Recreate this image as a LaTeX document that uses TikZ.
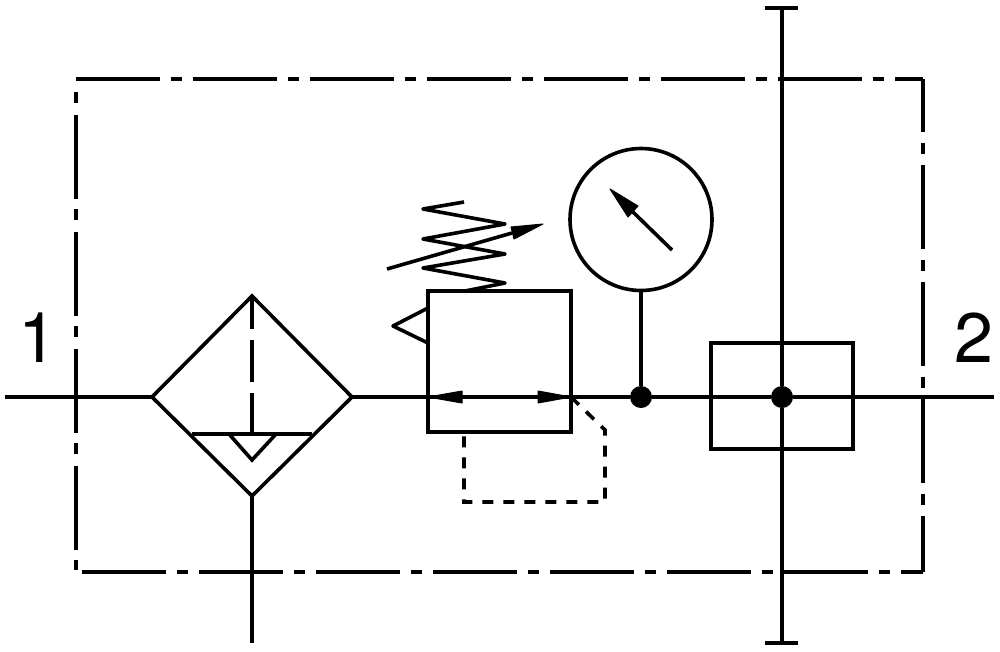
\documentclass[tikz,border=0pt]{standalone}
\usepackage{fontspec}
\setmainfont{TeX Gyre Heros}
\begin{document}
\begin{tikzpicture}[x=1pt,y=-1pt,
  sym/.style={line width=3.6pt,draw=black,line join=miter},
  boxnode/.style={sym,rectangle,inner sep=0pt,outer sep=0pt},
  dashdot/.style={sym,dash pattern=on 84pt off 10.5pt on 11pt off 11.5pt},
  pilot/.style={line width=3.6pt,draw=black,dash pattern=on 11pt off 10pt},
  portlabel/.style={font=\fontsize{70}{70}\selectfont,inner sep=0pt,outer sep=0pt,anchor=base,text=black},
  junction/.style={circle,fill=black,inner sep=0pt,minimum size=22pt},
  head/.style={fill=black,draw=black,line width=1pt,line join=round}]
\path[use as bounding box,fill=white] (0,0) rectangle (1000,651);
% outer frame
\coordinate (tl) at (76,79);
\coordinate (tr) at (923,79);
\coordinate (bl) at (76,572);
\coordinate (br) at (923,572);
\coordinate (ltop) at (76,92);
\coordinate (lbot) at (76,570);
\coordinate (bstart) at (82,572);
\draw[dashdot] (tl) -- (tr);
\draw[dashdot] (bstart) -- (br);
\draw[dashdot,dash phase=94.5pt] (ltop) -- (lbot);
\draw[dashdot,dash phase=31pt] (tr) -- (br);
% ports
\coordinate (p1) at (5,397);
\coordinate (p2) at (994,397);
\node[portlabel] (lab1) at (38,362) {1};
\node[portlabel] (lab2) at (974,362) {2};
% filter
\coordinate (fT) at (252,296);
\coordinate (fL) at (152,397);
\coordinate (fR) at (352,397);
\coordinate (fB) at (252,496);
\coordinate (fHL) at (192,434);
\coordinate (fHR) at (312,434);
\coordinate (fHC) at (252,434);
\coordinate (tA) at (229,434);
\coordinate (tB) at (252,460);
\coordinate (tC) at (276,434);
\coordinate (drain) at (252,643);
\draw[sym] (fT) -- (fR) -- (fB) -- (fL) -- cycle;
\draw[sym] (fHL) -- (fHR);
\draw[sym] (tA) -- (tB) -- (tC);
\draw[sym,dash pattern=on 33pt off 11pt on 42pt off 11pt on 41pt] (fT) -- (fHC);
\draw[sym] (fB) -- (drain);
% regulator
\node[boxnode,minimum width=143pt,minimum height=141pt] (reg) at (499.5,361.5) {};
\coordinate (rL) at (reg.west |- p1);
\coordinate (rR) at (reg.east |- p1);
\path[head] (428,397) -- (462,391) -- (462,403) -- cycle;
\path[head] (571,397) -- (538,391) -- (538,403) -- cycle;
% spring
\draw[sym,line join=round] (464,202) -- (423,209) -- (505,224) -- (423,239) -- (505,254) -- (423,268) -- (505,283) -- (465,291);
% adjust arrow
\coordinate (aS) at (387,269);
\coordinate (aE) at (543,224);
\draw[sym] (aS) -- (512,233);
\path[head] (aE) -- (511,227) -- (514,239) -- cycle;
% side triangle
\draw[sym,line join=round] (428,308) -- (393,326) -- (428,343);
% pilot line
\coordinate (pa) at (571,397);
\coordinate (pb) at (605,430);
\coordinate (pc) at (605,502);
\coordinate (pd) at (464,502);
\coordinate (pe) at (464,432);
\draw[pilot] (pa) -- (pb) -- (pc) -- (pd) -- (pe);
% gauge
\node[boxnode,circle,minimum size=142pt] (gauge) at (641,219.5) {};
\coordinate (nS) at (672,250);
\coordinate (nE) at (610,189);
\coordinate (nB) at (633,212);
\draw[sym] (nS) -- (nB);
\path[head] (nE) -- (638,206) -- (628,217) -- cycle;
\node[junction] (j1) at (641,397) {};
\draw[sym] (gauge.south) -- (j1);
% right box and bar
\node[boxnode,minimum width=142pt,minimum height=106pt] (out) at (782,396) {};
\node[junction] (j2) at (782,397) {};
\coordinate (vT) at (782,8);
\coordinate (vB) at (782,643);
\coordinate (vTl) at (765,8);
\coordinate (vTr) at (798,8);
\coordinate (vBl) at (765,643);
\coordinate (vBr) at (798,643);
\draw[sym] (vT) -- (j2) -- (vB);
\draw[sym] (vTl) -- (vTr);
\draw[sym] (vBl) -- (vBr);
% main line
\draw[sym] (p1) -- (fL);
\draw[sym] (fR) -- (rL) -- (rR) -- (j1) -- (out.west |- p1) -- (j2) -- (out.east |- p1) -- (p2);
\end{tikzpicture}
\end{document}
